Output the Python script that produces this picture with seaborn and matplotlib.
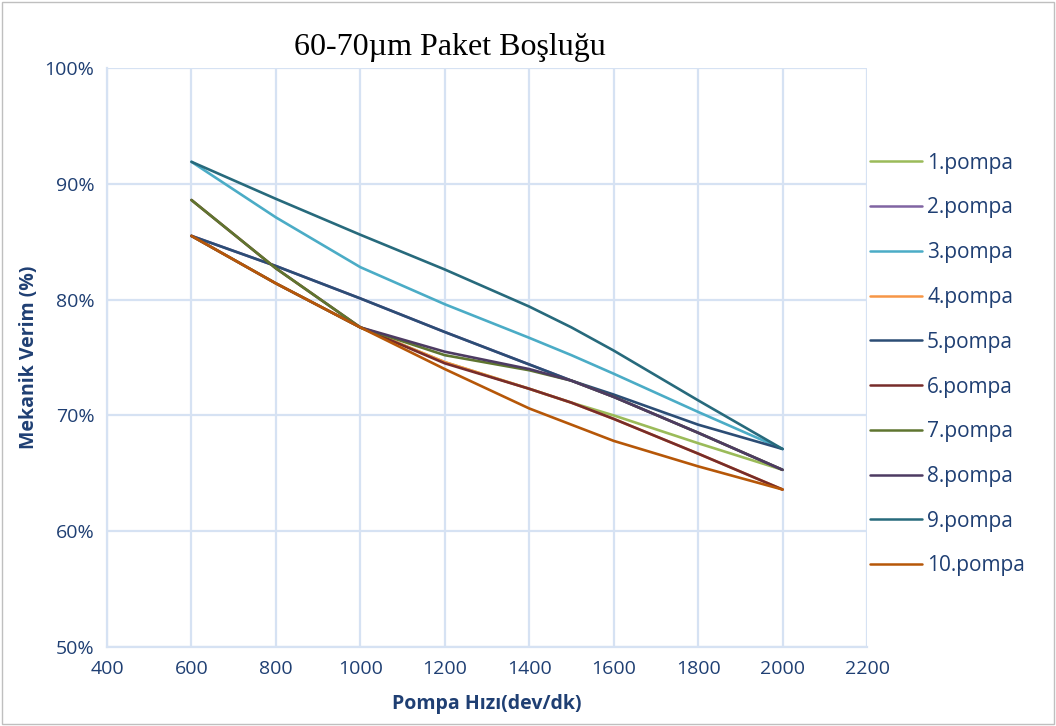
import matplotlib
matplotlib.use("Agg")
import matplotlib.pyplot as plt
import seaborn as sns
import pandas as pd
from matplotlib.patches import Rectangle
from matplotlib.ticker import FuncFormatter, MultipleLocator

# ---- data ----
speed = [600, 800, 1000, 1200, 1400, 1500, 1600, 1800, 2000]
series_names = ["1.pompa", "2.pompa", "3.pompa", "4.pompa", "5.pompa",
                "6.pompa", "7.pompa", "8.pompa", "9.pompa", "10.pompa"]
pompa1 = [85.5, 81.4, 77.6, 74.6, 72.3, 71.1, 70.0, 67.6, 65.3]
pompa2 = [85.5, 82.9, 80.1, 77.2, 74.4, 73.0, 71.6, 68.5, 65.3]
pompa3 = [91.9, 87.1, 82.8, 79.6, 76.7, 75.2, 73.6, 70.3, 67.1]
pompa4 = [85.5, 81.4, 77.6, 74.6, 72.3, 71.1, 69.7, 66.7, 63.6]
pompa5 = [85.5, 82.9, 80.1, 77.2, 74.4, 73.0, 71.8, 69.2, 67.1]
pompa6 = [88.6, 82.7, 77.6, 74.5, 72.3, 71.1, 69.7, 66.7, 63.6]
pompa7 = [88.6, 82.7, 77.6, 75.2, 73.9, 73.0, 71.6, 68.5, 65.3]
pompa8 = [85.5, 81.4, 77.6, 75.5, 74.0, 73.0, 71.6, 68.5, 65.3]
pompa9 = [91.9, 88.7, 85.6, 82.6, 79.4, 77.6, 75.6, 71.3, 67.1]
pompa10 = [85.5, 81.4, 77.6, 74.0, 70.6, 69.2, 67.8, 65.6, 63.6]
all_series = [pompa1, pompa2, pompa3, pompa4, pompa5,
              pompa6, pompa7, pompa8, pompa9, pompa10]

x_ticks = [400, 600, 800, 1000, 1200, 1400, 1600, 1800, 2000, 2200]
title_text = "60-70µm Paket Boşluğu"
x_label = "Pompa Hızı(dev/dk)"
y_label = "Mekanik Verim (%)"

colors = ["#9BBB59", "#8064A2", "#4BACC6", "#F79646", "#2C4D75",
          "#772C2A", "#5F7530", "#4D3B62", "#276A7C", "#B65708"]

rows = []
for name, vals in zip(series_names, all_series):
    for xv, yv in zip(speed, vals):
        rows.append({"speed": xv, "verim": yv, "pompa": name})
df = pd.DataFrame(rows)

sns.set_theme(style="white")
plt.rcParams["font.family"] = ["Open Sans", "DejaVu Sans"]

text_col = "#1F3F73"
grid_col = "#D6E2F3"

fig = plt.figure(figsize=(10.56, 7.26), dpi=100)
ax = fig.add_axes([107/1056, 1-647/726, (867-107)/1056, (647-68)/726])

sns.lineplot(data=df, x="speed", y="verim", hue="pompa",
             hue_order=series_names, palette=colors, linewidth=1.9,
             ax=ax, legend=True, sort=True)

ax.set_xlim(400, 2200)
ax.set_ylim(50, 100)
ax.set_xticks(x_ticks)
ax.yaxis.set_major_locator(MultipleLocator(10))
ax.yaxis.set_major_formatter(FuncFormatter(lambda v, p: f"{int(round(v))}%"))
ax.grid(True, color=grid_col, linewidth=1.6)
ax.set_axisbelow(True)
for s in ["top", "right"]:
    ax.spines[s].set_visible(False)
for s in ["left", "bottom"]:
    ax.spines[s].set_color(grid_col)
    ax.spines[s].set_linewidth(1.6)
ax.tick_params(axis="both", colors=text_col, labelsize=14, length=0, pad=9)

ax.set_xlabel(x_label, fontsize=14, fontweight="bold", color=text_col, labelpad=12)
ax.set_ylabel(y_label, fontsize=14, fontweight="bold", color=text_col, labelpad=4)

fig.text(450/1056, 1-47/726, title_text, ha="center", va="center",
         fontsize=23, family=["Liberation Serif", "DejaVu Serif"], color="black")

handles, labels = ax.get_legend_handles_labels()
ax.get_legend().remove()
leg = fig.legend(handles, labels, loc="upper left",
                 bbox_to_anchor=(851/1056, 1-134/726), frameon=False,
                 fontsize=15, handlelength=2.5, labelspacing=1.14,
                 handletextpad=0.25, labelcolor=text_col)
for h in leg.get_lines():
    h.set_linewidth(1.8)

fig.patches.append(Rectangle((2/1056, 2/726), 1 - 4/1056, 1 - 4/726,
                             transform=fig.transFigure, fill=False,
                             edgecolor="#BFBFBF", linewidth=1.0))

fig.savefig("out.png", dpi=100)
